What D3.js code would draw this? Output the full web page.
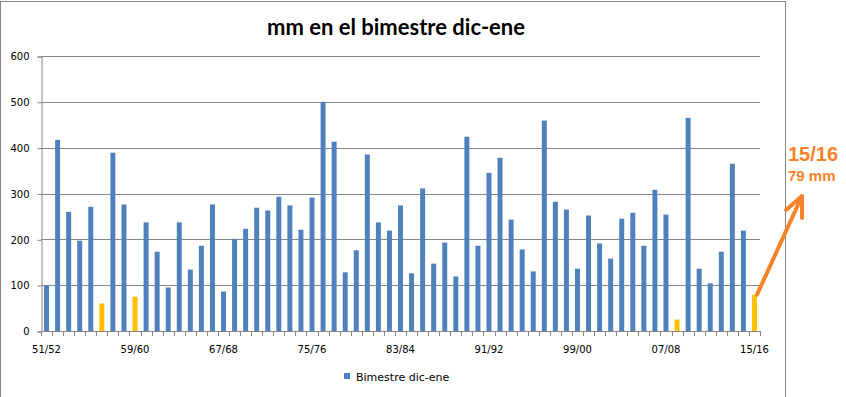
<!DOCTYPE html>
<html lang="es">
<head>
<meta charset="UTF-8">
<title>mm en el bimestre dic-ene</title>
<style>
  body { margin: 0; background: #fff; }
  svg { display: block; }
  .axis text { font-family: "DejaVu Sans", Verdana, sans-serif; font-size: 10px; fill: #000; }
  .title { font-family: Lato, "Open Sans", sans-serif; font-weight: bold; font-size: 22px; }
  .legend text { font-family: "DejaVu Sans", Verdana, sans-serif; font-size: 11px; }
  .note { font-family: "Liberation Sans", Arial, sans-serif; font-weight: bold; fill: #f7822a; }
</style>
</head>
<body>
<svg id="chart" width="846" height="397"></svg>
<script src="https://d3js.org/d3.v7.min.js"></script>
<script>
// temporadas 51/52 ... 15/16
const seasons = d3.range(1951, 2016).map(y =>
  String(y % 100).padStart(2, "0") + "/" + String((y + 1) % 100).padStart(2, "0"));

// mm en el bimestre dic-ene
const mm = [
  100, 417, 260, 197, 271, 60, 389, 276, 75, 237,
  173, 95, 237, 134, 186, 276, 86, 201, 223, 269,
  263, 293, 274, 221, 291, 500, 413, 128, 176, 385,
  237, 219, 274, 126, 311, 147, 193, 119, 424, 186,
  345, 378, 243, 178, 130, 459, 282, 265, 136, 252,
  191, 158, 245, 258, 186, 308, 254, 25, 465, 136,
  104, 173, 365, 219, 79
];

// temporadas secas resaltadas en amarillo
const dry = ["56/57", "59/60", "08/09", "15/16"];

const yTicks = [0, 100, 200, 300, 400, 500, 600];
const xLabels = ["51/52", "59/60", "67/68", "75/76", "83/84", "91/92", "99/00", "07/08", "15/16"];

const data = seasons.map((s, i) => ({ season: s, value: mm[i] }));

const margin = { top: 56, left: 41, right: 760, bottom: 331 };
const svg = d3.select("#chart");

// marco del grafico
svg.append("rect")
  .attr("x", 0.5).attr("y", 1.5)
  .attr("width", 785).attr("height", 420)
  .attr("fill", "none").attr("stroke", "#868686");

const x = d3.scaleBand()
  .domain(seasons)
  .range([margin.left, margin.right])
  .paddingInner(0.55)
  .paddingOuter(0.275);

const y = d3.scaleLinear()
  .domain([0, 600])
  .range([margin.bottom, margin.top]);

// lineas de cuadricula
svg.append("g")
  .selectAll("line")
  .data(yTicks.filter(d => d > 0))
  .join("line")
  .attr("x1", margin.left).attr("x2", margin.right)
  .attr("y1", d => Math.round(y(d)) + 0.5).attr("y2", d => Math.round(y(d)) + 0.5)
  .attr("stroke", "#868686");

// eje y
const yAxis = svg.append("g")
  .attr("class", "axis")
  .attr("transform", `translate(${margin.left + 0.5},0.5)`)
  .call(d3.axisLeft(y).tickValues(yTicks).tickSize(4).tickPadding(8));
yAxis.select(".domain").attr("stroke", "#868686");
yAxis.selectAll(".tick line").attr("stroke", "#868686");

// barras
svg.append("g")
  .selectAll("rect")
  .data(data)
  .join("rect")
  .attr("x", d => x(d.season))
  .attr("y", d => y(d.value))
  .attr("width", x.bandwidth())
  .attr("height", d => y(0) - y(d.value))
  .attr("fill", d => dry.includes(d.season) ? "#ffc000" : "#4f81bd");

// eje x: marcas entre categorias
const step = x.step();
const xAxisG = svg.append("g").attr("class", "axis");
xAxisG.append("line")
  .attr("x1", margin.left).attr("x2", margin.right)
  .attr("y1", Math.round(y(0)) + 0.5).attr("y2", Math.round(y(0)) + 0.5)
  .attr("stroke", "#868686");
xAxisG.selectAll(".minor")
  .data(d3.range(seasons.length + 1))
  .join("line")
  .attr("class", "minor")
  .attr("x1", i => Math.round(margin.left + i * step) + 0.5)
  .attr("x2", i => Math.round(margin.left + i * step) + 0.5)
  .attr("y1", Math.round(y(0)))
  .attr("y2", Math.round(y(0)) + 5)
  .attr("stroke", "#868686");
xAxisG.selectAll("text")
  .data(xLabels)
  .join("text")
  .attr("x", d => x(d) + x.bandwidth() / 2)
  .attr("y", y(0) + 22)
  .attr("text-anchor", "middle")
  .text(d => d);

// titulo
svg.append("text")
  .attr("class", "title")
  .attr("x", 396).attr("y", 35)
  .attr("text-anchor", "middle")
  .text("mm en el bimestre dic-ene");

// leyenda
const legend = svg.append("g").attr("class", "legend");
legend.append("rect")
  .attr("x", 344).attr("y", 373).attr("width", 6).attr("height", 6)
  .attr("fill", "#4f81bd");
legend.append("text")
  .attr("x", 356).attr("y", 381)
  .text("Bimestre dic-ene");

// anotacion de la ultima temporada
const last = data[data.length - 1];
const ax0 = x(last.season) + x.bandwidth(), ay0 = y(last.value);
const ax1 = 802, ay1 = 196;
svg.append("line")
  .attr("x1", ax0).attr("y1", ay0).attr("x2", ax1).attr("y2", ay1)
  .attr("stroke", "#f7822a").attr("stroke-width", 4).attr("stroke-linecap", "round");
svg.append("polyline")
  .attr("points", `786,210 ${ax1},${ay1} 802,218`)
  .attr("fill", "none").attr("stroke", "#f7822a").attr("stroke-width", 4)
  .attr("stroke-linecap", "round").attr("stroke-linejoin", "round");
svg.append("text").attr("class", "note")
  .attr("x", 788).attr("y", 161).style("font-size", "20px")
  .text(last.season);
svg.append("text").attr("class", "note")
  .attr("x", 788).attr("y", 181).style("font-size", "15px")
  .text(last.value + " mm");
</script>
</body>
</html>
